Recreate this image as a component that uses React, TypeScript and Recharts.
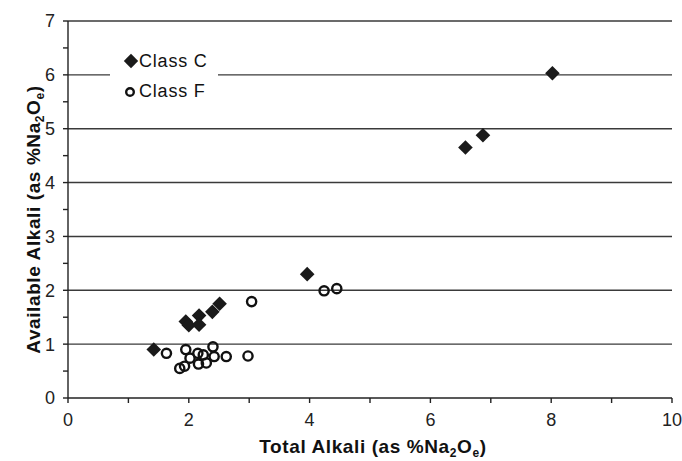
import React from 'react';
import {
  ScatterChart,
  Scatter,
  XAxis,
  YAxis,
  ReferenceLine,
  Legend,
  Label,
} from 'recharts';

const classC = [
  { x: 1.42, y: 0.9 },
  { x: 1.95, y: 1.42 },
  { x: 2.0, y: 1.35 },
  { x: 2.17, y: 1.53 },
  { x: 2.17, y: 1.36 },
  { x: 2.39, y: 1.6 },
  { x: 2.51, y: 1.75 },
  { x: 3.96, y: 2.3 },
  { x: 6.58, y: 4.65 },
  { x: 6.87, y: 4.88 },
  { x: 8.02, y: 6.03 },
];

const classF = [
  { x: 1.63, y: 0.83 },
  { x: 1.95, y: 0.9 },
  { x: 1.85, y: 0.55 },
  { x: 1.93, y: 0.59 },
  { x: 2.02, y: 0.74 },
  { x: 2.15, y: 0.83 },
  { x: 2.16, y: 0.63 },
  { x: 2.24, y: 0.8 },
  { x: 2.29, y: 0.65 },
  { x: 2.4, y: 0.95 },
  { x: 2.42, y: 0.77 },
  { x: 2.62, y: 0.77 },
  { x: 2.98, y: 0.78 },
  { x: 3.04, y: 1.79 },
  { x: 4.24, y: 1.99 },
  { x: 4.45, y: 2.03 },
];

const xTicks = [0, 1, 2, 3, 4, 5, 6, 7, 8, 9, 10];
const yTicks = [0, 0.5, 1, 1.5, 2, 2.5, 3, 3.5, 4, 4.5, 5, 5.5, 6, 6.5, 7];
const gridLines = [1, 2, 3, 4, 5, 6, 7];

const FONT = '"Liberation Sans", Arial, sans-serif';

const Diamond = (props: any) => {
  const { cx, cy } = props;
  const r = 7.3;
  return (
    <path
      d={`M${cx},${cy - r}L${cx + r},${cy}L${cx},${cy + r}L${cx - r},${cy}Z`}
      fill="#1a1a1a"
    />
  );
};

const Ring = (props: any) => {
  const { cx, cy } = props;
  return <circle cx={cx} cy={cy} r={4.6} fill="none" stroke="#111" strokeWidth={2.4} />;
};

const legendRow: React.CSSProperties = {
  display: 'flex',
  alignItems: 'center',
  height: 30.5,
  whiteSpace: 'nowrap',
};

const renderLegend = () => (
  <div
    style={{
      background: '#fff',
      fontFamily: FONT,
      fontSize: 18,
      letterSpacing: 0.8,
      color: '#111',
      padding: '2px 0 2px 13px',
    }}
  >
    <div style={legendRow}>
      <svg width={16} height={16}>
        <path d="M8,0.8L15.2,8L8,15.2L0.8,8Z" fill="#1a1a1a" />
      </svg>
      Class C
    </div>
    <div style={legendRow}>
      <svg width={16} height={16}>
        <circle cx={7} cy={8} r={3.8} fill="none" stroke="#111" strokeWidth={2.4} />
      </svg>
      Class F
    </div>
  </div>
);

const XTitle = (props: any) => {
  const { viewBox } = props;
  const cx = viewBox.x + viewBox.width / 2 + 3;
  return (
    <text
      x={cx}
      y={viewBox.y + 55}
      textAnchor="middle"
      fontFamily={FONT}
      fontWeight="bold"
      fontSize={19}
      letterSpacing={0.6}
      fill="#111"
    >
      Total Alkali (as %Na
      <tspan dy={4} fontSize={12}>2</tspan>
      <tspan dy={-4}>O</tspan>
      <tspan dy={4} fontSize={12}>e</tspan>
      <tspan dy={-4}>)</tspan>
    </text>
  );
};

const YTitle = (props: any) => {
  const { viewBox } = props;
  const cy = viewBox.y + viewBox.height / 2 + 10;
  const x = 40;
  return (
    <text
      x={x}
      y={cy}
      transform={`rotate(-90, ${x}, ${cy})`}
      textAnchor="middle"
      fontFamily={FONT}
      fontWeight="bold"
      fontSize={19}
      letterSpacing={0.6}
      fill="#111"
    >
      Available Alkali (as %Na
      <tspan dy={4} fontSize={12}>2</tspan>
      <tspan dy={-4}>O</tspan>
      <tspan dy={4} fontSize={12}>e</tspan>
      <tspan dy={-4}>)</tspan>
    </text>
  );
};

export default function App() {
  return (
    <div style={{ position: 'absolute', left: 0, top: 0, width: 682, height: 461, background: '#fff' }}>
      <ScatterChart width={682} height={461} margin={{ top: 21, right: 10, left: 0, bottom: 0 }}>
        {gridLines.map((v) => (
          <ReferenceLine key={v} y={v} stroke="#3a3a3a" strokeWidth={1.4} ifOverflow="extendDomain" />
        ))}
        <XAxis
          type="number"
          dataKey="x"
          domain={[0, 10]}
          ticks={xTicks}
          interval={0}
          height={63}
          tickFormatter={(v: number) => (v % 2 === 0 ? String(v) : '')}
          tick={{ fontFamily: FONT, fontSize: 18, fill: '#222' }}
          tickSize={5}
          tickMargin={10}
          axisLine={{ stroke: '#222', strokeWidth: 1.4 }}
          tickLine={{ stroke: '#222', strokeWidth: 1.4 }}
        >
          <Label content={<XTitle />} />
        </XAxis>
        <YAxis
          type="number"
          dataKey="y"
          domain={[0, 7]}
          ticks={yTicks}
          interval={0}
          width={68}
          tickFormatter={(v: number) => (Number.isInteger(v) ? String(v) : '')}
          tick={{ fontFamily: FONT, fontSize: 18, fill: '#222' }}
          tickSize={5}
          tickMargin={8}
          axisLine={{ stroke: '#222', strokeWidth: 1.4 }}
          tickLine={{ stroke: '#222', strokeWidth: 1.4 }}
        >
          <Label content={<YTitle />} />
        </YAxis>
        <Legend
          layout="vertical"
          align="center"
          verticalAlign="middle"
          content={renderLegend}
          wrapperStyle={{ position: 'absolute', left: 110, top: 44, width: 108, height: 65, bottom: 'auto', right: 'auto' }}
        />
        <Scatter name="Class C" data={classC} shape={<Diamond />} isAnimationActive={false} />
        <Scatter name="Class F" data={classF} shape={<Ring />} isAnimationActive={false} />
      </ScatterChart>
    </div>
  );
}
